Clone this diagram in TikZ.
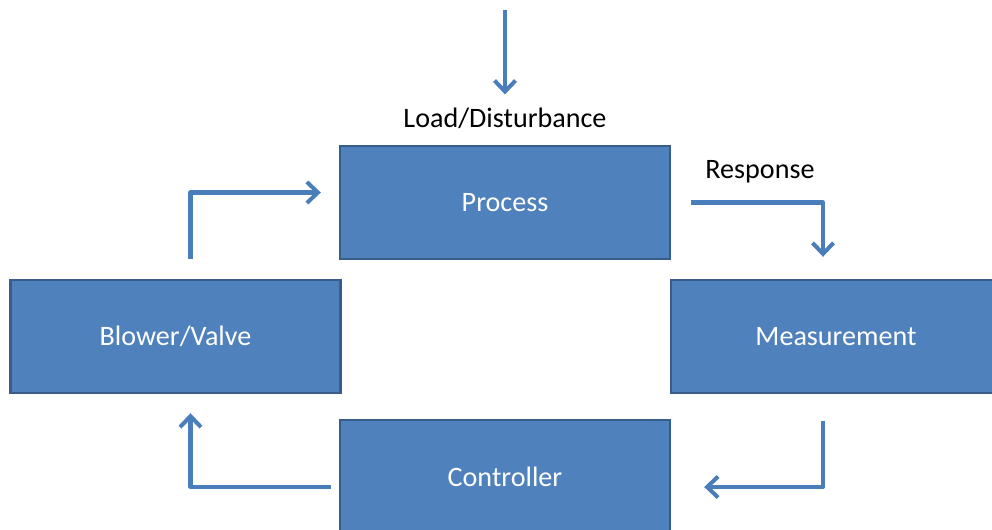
\documentclass[tikz,border=0pt]{standalone}
\usepackage{fontspec}
\setmainfont{Carlito}
\usetikzlibrary{arrows.meta}

\definecolor{boxblue}{HTML}{4F81BD}
\definecolor{boxedge}{HTML}{385D8A}
\definecolor{flowblue}{HTML}{4A7EBB}

\tikzstyle{block} = [rectangle, fill=boxblue, draw=boxedge, line width=1.4pt,
  minimum width=6.6cm, minimum height=2.26cm, text=white, font=\fontsize{16}{19}\selectfont]
\tikzstyle{tag} = [font=\fontsize{16}{19}\selectfont]
\tikzstyle{flow} = [draw=flowblue, line width=2.3pt, line join=round,
  -{Straight Barb[length=0.22cm, width=0.42cm, line width=2.3pt]}]

\begin{document}
\begin{tikzpicture}[x=0.02cm, y=-0.02cm]
\useasboundingbox (0,0) rectangle (992,529);
\clip (0,0) rectangle (992,529);

% the four blocks of the loop
\node[block] (process) at (505,202.5) {Process};
\node[block] (blower) at (175.5,336.5) {Blower/Valve};
\node[block] (measure) at (836,336.5) {Measurement};
\node[block] (control) at (505,476.5) {Controller};

% labels
\node[tag] (load) at (505,118) {Load/Disturbance};
\node[tag] (resp) at (760,172) {Response};

% disturbance coming in from the top
\coordinate (loadin) at (505,10);
\draw[flow] (loadin) -- ([yshift=0.14cm]load.north);

% feedback loop
\draw[flow] ([xshift=0.3cm, yshift=0.4cm]blower.north) |- ([xshift=-0.36cm, yshift=0.2cm]process.west);
\draw[flow] ([xshift=0.4cm]process.east) -| ([xshift=-0.26cm, yshift=0.44cm]measure.north);
\draw[flow] ([xshift=-0.26cm, yshift=-0.54cm]measure.south) |- ([xshift=0.66cm, yshift=-0.21cm]control.east);
\draw[flow] ([xshift=-0.16cm, yshift=-0.21cm]control.west) -| ([xshift=0.3cm, yshift=-0.38cm]blower.south);

\end{tikzpicture}
\end{document}
